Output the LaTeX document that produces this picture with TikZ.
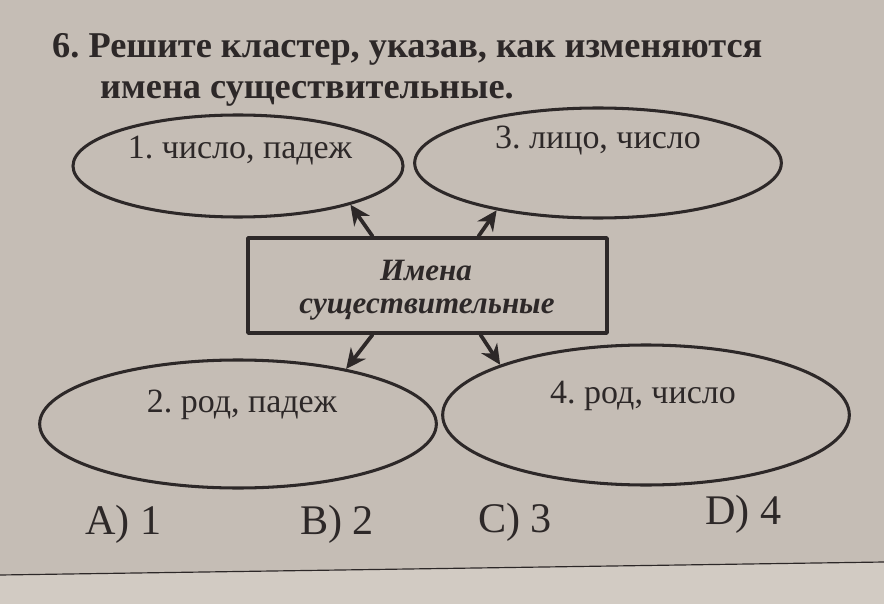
\documentclass[tikz,border=0pt]{standalone}
\usepackage{fontspec}
\setmainfont{Liberation Serif}
\usetikzlibrary{arrows.meta,shapes.geometric}

\definecolor{paper}{RGB}{197,189,181}
\definecolor{strip}{RGB}{210,203,195}
\definecolor{ink}{RGB}{45,40,40}

\tikzset{
    oval/.style={draw=ink, line width=2.6pt, ellipse, inner sep=0pt},
    arr/.style={draw=ink, line width=3.2pt, -{Stealth[length=17pt, width=16pt]}},
    lbl/.style={text=ink, inner sep=0pt, font=\fontsize{29}{32}\selectfont},
    ans/.style={text=ink, inner sep=0pt, font=\fontsize{36}{40}\selectfont}
}

\begin{document}
\frenchspacing
\begin{tikzpicture}[line cap=round, line join=round, x=0.3mm, y=-0.3mm]
                \useasboundingbox (0, 0) rectangle (884, 604);
                \fill[paper] (0, 0) rectangle (884, 604);
                \fill[strip] (0, 575) -- (884, 562) -- (884, 604) -- (0, 604) -- cycle;
                \draw[ink, line width=1pt] (0, 575) -- (884, 562);

                % Question
                \node[lbl, anchor=base west, font=\bfseries\fontsize{31}{34}\selectfont] (q1) at (52, 58) {6. Решите кластер, указав, как изменяются};
                \node[lbl, anchor=base west, font=\bfseries\fontsize{31}{34}\selectfont] (q2) at (100, 99) {имена существительные.};

                % Ovals
                \node[oval, minimum width=99mm, minimum height=30.6mm] (e1) at (238, 166) {};
                \node[oval, minimum width=110mm, minimum height=33mm] (e3) at (598, 163) {};
                \node[oval, minimum width=119mm, minimum height=38.4mm] (e2) at (238, 424) {};
                \node[oval, minimum width=122mm, minimum height=42mm] (e4) at (646, 415) {};

                \node[lbl, anchor=base] (l1) at (240, 159) {1. число, падеж};
                \node[lbl, anchor=base] (l3) at (598, 149) {3. лицо, число};
                \node[lbl, anchor=base] (l2) at (242, 412) {2. род, падеж};
                \node[lbl, anchor=base] (l4) at (643, 403) {4. род, число};

                % Box
                \node[draw=ink, line width=3pt, minimum width=107.7mm, minimum height=28.5mm, inner sep=0pt] (box) at (427.5, 285.5) {};
                \node[lbl, anchor=base, font=\bfseries\itshape\fontsize{26.5}{30}\selectfont] (b1) at (426, 280) {Имена};
                \node[lbl, anchor=base, font=\bfseries\itshape\fontsize{26.5}{30}\selectfont] (b2) at (427, 313) {существительные};

                % Arrows
                \draw[arr] ([xshift=-16.5mm]box.north) -- (e1.341);
                \draw[arr] ([xshift=15.3mm]box.north) -- (e3.205);
                \draw[arr] ([xshift=-16.5mm]box.south) -- (e2.27);
                \draw[arr] ([xshift=15.9mm]box.south) -- (e4.161);

                % Answers
                \node[ans, anchor=base west] (a) at (85, 534) {A) 1};
                \node[ans, anchor=base west] (b) at (300, 534) {B) 2};
                \node[ans, anchor=base west] (c) at (478, 532) {C) 3};
                \node[ans, anchor=base west] (d) at (705, 524) {D) 4};
            \end{tikzpicture}
\end{document}
